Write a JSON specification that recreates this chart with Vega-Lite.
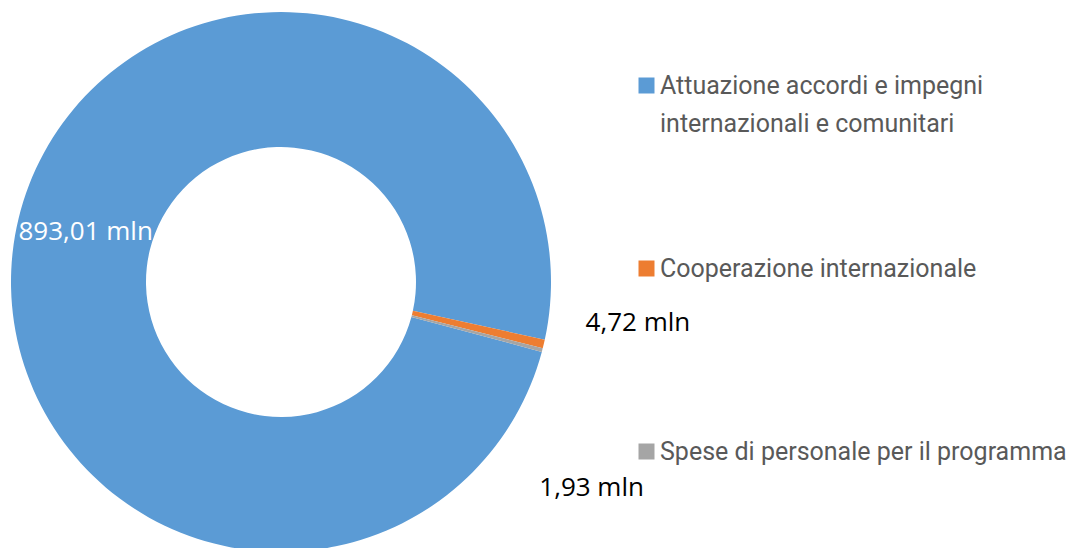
{
  "$schema": "https://vega.github.io/schema/vega-lite/v6.json",
  "width": 562,
  "height": 532,
  "autosize": {"type": "none"},
  "padding": {"left": 0, "top": 16, "right": 514, "bottom": 0},
  "background": "white",
  "config": {"view": {"stroke": null}},
  "data": {
    "values": [
      {"category": "Attuazione accordi e impegni internazionali  e comunitari", "value": 893.01, "label": "893,01 mln"},
      {"category": "Cooperazione internazionale", "value": 4.72, "label": "4,72 mln"},
      {"category": "Spese di personale per il programma", "value": 1.93, "label": "1,93 mln"}
    ]
  },
  "encoding": {
    "theta": {"field": "value", "type": "quantitative", "stack": true, "scale": {"range": [1.8326, 8.1158]}},
    "order": {"field": "value", "sort": "descending"}
  },
  "layer": [
    {
      "mark": {"type": "arc", "innerRadius": 135, "outerRadius": 270},
      "encoding": {
        "color": {
          "field": "category",
          "type": "nominal",
          "scale": {
            "domain": ["Attuazione accordi e impegni internazionali  e comunitari", "Cooperazione internazionale", "Spese di personale per il programma"],
            "range": ["#5B9BD5", "#ED7D31", "#A5A5A5"]
          },
          "legend": {
            "title": null,
            "orient": "none",
            "legendX": 634,
            "legendY": 57,
            "padding": 0,
            "symbolType": "square",
            "symbolSize": 256,
            "symbolStrokeWidth": 0,
            "symbolOpacity": 1,
            "labelFont": "Roboto",
            "labelFontSize": 25,
            "labelColor": "#595959",
            "labelLimit": 0,
            "labelOffset": 1,
            "rowPadding": 119,
            "labelBaseline": "top",
            "labelExpr": "datum.label == 'Attuazione accordi e impegni internazionali  e comunitari' ? ['Attuazione accordi e impegni', 'internazionali  e comunitari'] : [datum.label, ' ']",
            "encode": {"labels": {"update": {"dy": {"value": -12}, "lineHeight": {"value": 38}}}}
          }
        }
      }
    },
    {
      "mark": {"type": "text", "radius": 201, "font": "Open Sans", "fontSize": 26, "color": "white", "align": "center", "baseline": "middle", "dy": -2},
      "encoding": {"text": {"condition": {"test": "datum.value > 100", "field": "label"}, "value": ""}}
    },
    {
      "mark": {"type": "text", "radius": 313, "font": "Open Sans", "fontSize": 26, "color": "black", "align": "left", "baseline": "middle", "dy": -31},
      "encoding": {"text": {"condition": {"test": "datum.category == 'Cooperazione internazionale'", "field": "label"}, "value": ""}}
    },
    {
      "mark": {"type": "text", "radius": 300, "font": "Open Sans", "fontSize": 26, "color": "black", "align": "left", "baseline": "middle", "dx": -32, "dy": 130},
      "encoding": {"text": {"condition": {"test": "datum.category == 'Spese di personale per il programma'", "field": "label"}, "value": ""}}
    }
  ]
}
